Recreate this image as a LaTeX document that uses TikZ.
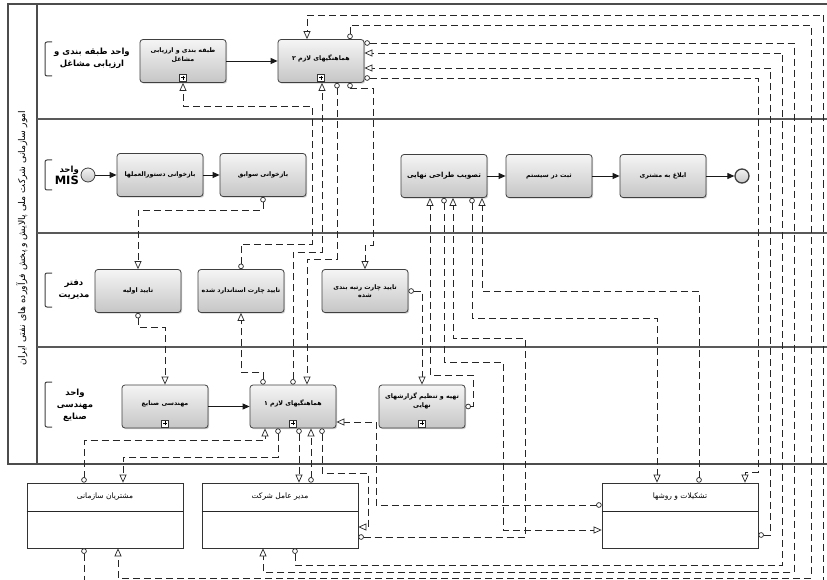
\documentclass[tikz,border=0pt]{standalone}
\usepackage{fontspec}
\usetikzlibrary{arrows.meta,calc,shadows}
\newfontfamily\arabicfont[Script=Arabic]{DejaVu Sans}
\TeXXeTstate=1
\newcommand\fa[1]{{\arabicfont\beginR #1\endR}}
\newcommand\submark[1]{%
  \draw[line width=0.6pt,draw=black!80,fill=white] ([xshift=-3.5pt,yshift=1.5pt]#1.south) rectangle ([xshift=3.5pt,yshift=8.5pt]#1.south);
  \draw[line width=0.8pt] ([yshift=3pt]#1.south) -- ([yshift=7pt]#1.south) ([xshift=-2pt,yshift=5pt]#1.south) -- ([xshift=2pt,yshift=5pt]#1.south);}
\begin{document}
\begin{tikzpicture}[x=1pt,y=-1pt,
  task/.style={draw=black!75, line width=0.8pt, rounded corners=3pt, top color=gray!8, bottom color=gray!45,
    drop shadow={shadow xshift=1.2pt, shadow yshift=-1.2pt, opacity=0.35},
    minimum width=86pt, minimum height=43pt, inner sep=2pt, align=center, font=\fontsize{6.3}{8.5}\selectfont\bfseries},
  part/.style={draw=black!80, line width=0.7pt, fill=white, minimum width=156pt, minimum height=65pt},
  event/.style={circle, draw=black!75, line width=0.8pt, top color=gray!10, bottom color=gray!45, minimum size=14pt, inner sep=0pt},
  msg/.style={draw=black!85, line width=0.8pt, dash pattern=on 7pt off 4pt,
    {Circle[fill=white,length=5.5pt,width=5.5pt,line width=0.7pt]}-{Triangle[fill=white,length=8pt,width=7pt,line width=0.7pt]}},
  seq/.style={draw=black!90, line width=0.9pt, -{Triangle[length=7pt,width=6pt]}},
  pool/.style={draw=black!70, line width=1.1pt},
  lane/.style={draw=black!65, line width=1.4pt},
  bracket/.style={draw=black!75, line width=1pt, rounded corners=2pt},
  lanelab/.style={font=\fontsize{8.5}{12}\selectfont\bfseries, align=center, inner sep=0pt},
  partlab/.style={font=\fontsize{7.5}{9}\selectfont}
]
\useasboundingbox (0,0) rectangle (827,580);
\clip (0,0) rectangle (827,580);
\fill[white] (0,0) rectangle (827,580);

% pool and lanes
\draw[pool] (840,4) -- (8,4) -- (8,464) -- (840,464);
\draw[pool] (37,4) -- (37,464);
\draw[lane] (37,119) -- (840,119);
\draw[lane] (37,233) -- (840,233);
\draw[lane] (37,347) -- (840,347);
\node[rotate=90, font=\fontsize{9.3}{11}\selectfont, inner sep=0pt] (pl) at (22,238) {\fa{امور سازمانی شرکت ملی پالایش و پخش فرآورده های نفتی ایران}};

% lane labels
\draw[bracket] (52,42) -| (45,76) -- (52,76);
\node[lanelab] (l1) at (92,58) {\fa{واحد طبقه بندی و}\\\fa{ارزیابی مشاغل}};
\draw[bracket] (52,160) -| (45,190) -- (52,190);
\node[lanelab, align=right, anchor=east] (l2) at (79,175) {\fa{واحد}\\{\arabicfont\fontsize{11.5}{12}\selectfont MIS}};
\draw[bracket] (52,273) -| (45,307) -- (52,307);
\node[lanelab] (l3) at (74,290) {\fa{دفتر}\\\fa{مدیریت}};
\draw[bracket] (52,382) -| (45,427) -- (52,427);
\node[lanelab] (l4) at (75,405) {\fa{واحد}\\\fa{مهندسی}\\\fa{صنایع}};

% tasks
\node[task] (t1) at (183,61) {\fa{طبقه بندی و ارزیابی}\\\fa{مشاغل}\\[4pt]};
\node[task] (hm2) at (321,61) {\raisebox{7pt}{\fa{هماهنگیهای لازم ۲}}};
\node[event] (st) at (88,175) {};
\node[task] (b1) at (160,175) {\fa{بازخوانی دستورالعملها}};
\node[task] (b2) at (263,175) {\fa{بازخوانی سوابق}};
\node[task, font=\fontsize{7}{8.5}\selectfont\bfseries] (tas) at (444,176) {\fa{تصویب طراحی نهایی}};
\node[task] (sabt) at (549,176) {\fa{ثبت در سیستم}};
\node[task] (ebl) at (663,176) {\fa{ابلاغ به مشتری}};
\node[event, line width=1.3pt] (en) at (742,176) {};
\node[task] (ta1) at (138,291) {\fa{تایید اولیه}};
\node[task] (tcs) at (241,291) {\fa{تایید چارت استاندارد شده}};
\node[task] (tcr) at (365,291) {\fa{تایید چارت رتبه بندی}\\\fa{شده}};
\node[task] (mo) at (165,406.5) {\raisebox{7pt}{\fa{مهندسی صنایع}}};
\node[task] (hm1) at (293,406.5) {\raisebox{7pt}{\fa{هماهنگیهای لازم ۱}}};
\node[task] (tt) at (422,406.5) {\fa{تهیه و تنظیم گزارشهای}\\\fa{نهایی}\\[4pt]};
\submark{t1}\submark{hm2}\submark{mo}\submark{hm1}\submark{tt}

% participants
\node[part] (ms) at (105,515.5) {};
\node[part] (ma) at (280,515.5) {};
\node[part] (tr) at (680,515.5) {};
\foreach \p in {ms,ma,tr}{\draw[line width=1pt,draw=black!85] ([yshift=-29pt]\p.north west) -- ([yshift=-29pt]\p.north east);}
\node[partlab] (msl) at ([yshift=-14pt]ms.north) {\fa{مشتریان سازمانی}};
\node[partlab] (mal) at ([yshift=-14pt]ma.north) {\fa{مدیر عامل شرکت}};
\node[partlab] (trl) at ([yshift=-14pt]tr.north) {\fa{تشکیلات و روشها}};

% sequence flows
\draw[seq] (t1) -- (hm2);
\draw[seq] (st) -- (b1);
\draw[seq] (b1) -- (b2);
\draw[seq] (tas) -- (sabt);
\draw[seq] (sabt) -- (ebl);
\draw[seq] (ebl) -- (en);
\draw[seq] (mo) -- (hm1);

% message flows
\draw[msg] (tcs.north) |- (312,244) |- (183,106) -- (t1.south);
\draw[msg] (ms.south -| 84,0) -- (84,595) -| (823,15) -| (hm2.north -| 307,0);
\draw[msg] (hm2.north -| 350,0) |- (811,25) |- (118,578) -- (ms.south -| 118,0);
\draw[msg] (hm2.east |- 0,43) -| (794,572) -| (ma.south -| 263,0);
\draw[msg] (ma.south -| 295,0) |- (782,565) |- (hm2.east |- 0,53);
\draw[msg] (tr.east |- 0,535) -| (770,68) -- (hm2.east |- 0,68);
\draw[msg] (hm2.east |- 0,78) -| (758,472) -| (tr.north -| 745,0);
\draw[msg] (hm2.south -| 350,0) |- (373,88) |- (365,245) -- (tcr.north);
\draw[msg] (hm1.north -| 293,0) |- (322,252) -- (hm2.south -| 322,0);
\draw[msg] (hm2.south -| 337,0) |- (307,259) -- (hm1.north -| 307,0);
\draw[msg] (tcr.east) -| (tt.north);
\draw[msg] (b2.south) |- (138,210) -- (ta1.north);
\draw[msg] (ta1.south) |- (165,327) -- (mo.north);
\draw[msg] (hm1.north -| 263,0) |- (241,372) -- (tcs.south);
\draw[msg] (ms.north -| 84,0) |- (265,440) -- (hm1.south -| 265,0);
\draw[msg] (hm1.south -| 278,0) |- (123,457) -- (ms.north -| 123,0);
\draw[msg] (hm1.south -| 299,0) -- (ma.north -| 299,0);
\draw[msg] (ma.north -| 311,0) -- (hm1.south -| 311,0);
\draw[msg] (hm1.south -| 322,0) |- (368,473) |- (ma.east |- 0,527);
\draw[msg] (ma.east |- 0,537) -| (525,338) -| (tas.south -| 453,0);
\draw[msg] (tas.south -| 444,0) |- (503,362) |- (tr.west |- 0,530);
\draw[msg] (tr.west |- 0,505) -| (376,422) -- (hm1.east |- 0,422);
\draw[msg] (tt.east) -| (473,375) -| (tas.south -| 430,0);
\draw[msg] (tas.south -| 472,0) |- (657,318) -- (tr.north -| 657,0);
\draw[msg] (tr.north -| 699,0) |- (482,291) -- (tas.south -| 482,0);
\end{tikzpicture}
\end{document}
